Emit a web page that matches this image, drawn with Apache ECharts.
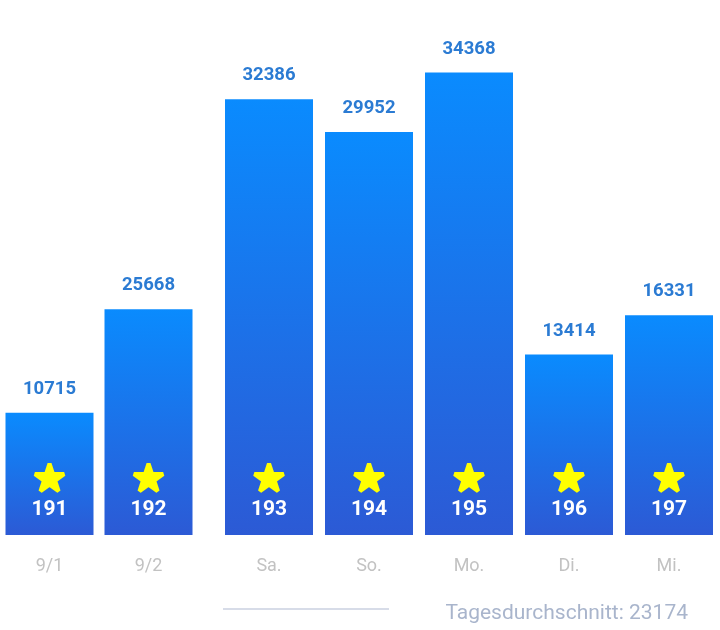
<!DOCTYPE html>
<html><head><meta charset="utf-8">
<script src="https://cdn.jsdelivr.net/npm/echarts@6/dist/echarts.min.js"></script>
<style>html,body{margin:0;padding:0;background:#fff}#c{width:720px;height:630px}</style>
</head><body><div id="c"></div>
<script>
var catsA = ['9/1', '9/2'];
var stepsA = [10715, 25668];
var idsA = [191, 192];
var catsB = ['Sa.', 'So.', 'Mo.', 'Di.', 'Mi.'];
var stepsB = [32386, 29952, 34368, 13414, 16331];
var idsB = [193, 194, 195, 196, 197];
var averageLabel = 'Tagesdurchschnitt: 23174';

var FONT = 'Roboto';
var grad = new echarts.graphic.LinearGradient(0, 0, 0, 1, [
  {offset: 0, color: '#0a8bfe'}, {offset: 1, color: '#2c5ad5'}
]);
function mainSeries(idx, vals) {
  return {
    type: 'bar', xAxisIndex: idx, yAxisIndex: idx, data: vals, barWidth: 88,
    itemStyle: {color: grad},
    label: {show: true, position: 'top', distance: 14, color: '#2b7bd3',
      fontFamily: FONT, fontWeight: 'bold', fontSize: 18.5},
    silent: true
  };
}
function starSeries(idx, vals, ids) {
  return {
    type: 'bar', xAxisIndex: idx, yAxisIndex: idx, data: vals, barWidth: 88, barGap: '-100%',
    itemStyle: {color: 'rgba(0,0,0,0)'},
    label: {show: true, position: 'insideBottom', distance: 12,
      formatter: function (p) { return '{s|★}\n{n|' + ids[p.dataIndex] + '}'; },
      rich: {
        s: {fontSize: 38, color: '#ffff00', textBorderColor: '#ffff00', textBorderWidth: 4,
            lineJoin: 'round', lineHeight: 32, fontFamily: 'DejaVu Sans', align: 'center'},
        n: {fontSize: 21, fontWeight: 'bold', color: '#ffffff', lineHeight: 26, fontFamily: FONT, align: 'center'}
      }},
    silent: true, z: 3
  };
}
function xAx(idx, cats) {
  return {type: 'category', gridIndex: idx, data: cats,
    axisLine: {show: false}, axisTick: {show: false},
    axisLabel: {color: '#c2c2c2', fontSize: 18, fontFamily: FONT, margin: 22}};
}
function yAx(idx, mn, mx) {
  return {type: 'value', gridIndex: idx, min: mn, max: mx, startValue: mn, show: false, splitLine: {show: false}};
}
var chart = echarts.init(document.getElementById('c'));
chart.setOption({
  backgroundColor: '#ffffff',
  animation: false,
  grid: [
    {left: 0, width: 198, top: 72.5, bottom: 95},
    {left: 219, width: 500, top: 72.5, bottom: 95}
  ],
  xAxis: [xAx(0, catsA), xAx(1, catsB)],
  yAxis: [yAx(0, -6920, 59840), yAx(1, 0, 34368)],
  series: [mainSeries(0, stepsA), starSeries(0, stepsA, idsA), mainSeries(1, stepsB), starSeries(1, stepsB, idsB)],
  title: {text: averageLabel, right: 27, top: 598,
    textStyle: {color: '#a9b5cc', fontSize: 21, fontWeight: 'normal', fontFamily: FONT}},
  graphic: [{type: 'line', shape: {x1: 223, y1: 609, x2: 389, y2: 609},
    style: {stroke: '#d7dce8', lineWidth: 2}}]
});
</script></body></html>
